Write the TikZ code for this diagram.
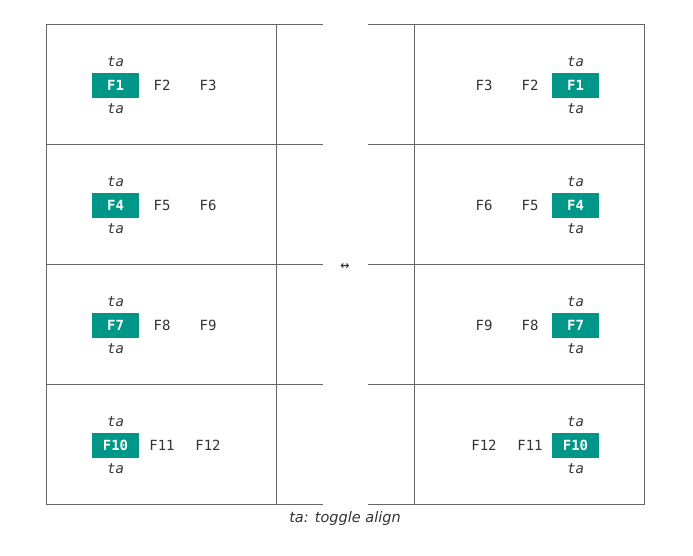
\documentclass[tikz,border=0pt]{standalone}
\usepackage{fontspec}
\setmainfont{DejaVu Sans}
\setmonofont{DejaVu Sans Mono}
\definecolor{teal9}{HTML}{009688}
\definecolor{txt}{HTML}{333333}
\definecolor{ln}{HTML}{666666}
\begin{document}
\begin{tikzpicture}[x=1pt,y=-1pt,
  grid/.style={draw=ln,line width=0.8pt},
  lbl/.style={font=\ttfamily\fontsize{14}{14}\selectfont,text=txt,inner sep=0pt},
  talbl/.style={font=\ttfamily\itshape\fontsize{14}{14}\selectfont,text=txt,inner sep=0pt},
  hl/.style={fill=teal9,text=white,font=\ttfamily\bfseries\fontsize{14}{14}\selectfont,minimum width=47pt,minimum height=25pt,inner sep=0pt}]
\useasboundingbox (0,0) rectangle (693,555);
% left grid
\draw[grid] (323,24) -- (46,24) -- (46,504) -- (323,504);
\foreach \y in {144,264,384} \draw[grid] (46,\y) -- (323,\y);
\draw[grid] (276,24) -- (276,504);
% right grid
\draw[grid] (368,24) -- (644,24) -- (644,504) -- (368,504);
\foreach \y in {144,264,384} \draw[grid] (368,\y) -- (644,\y);
\draw[grid] (414,24) -- (414,504);
\node[font=\bfseries\fontsize{11}{11}\selectfont,text=txt,inner sep=0pt] (arr) at (345,267) {↔};
% rows
\foreach \i/\a/\b/\c/\yy in {1/F1/F2/F3/85,2/F4/F5/F6/205,3/F7/F8/F9/325,4/F10/F11/F12/445}{
  \node[hl] (L\i) at (115.5,\yy) {\a};
  \node[talbl] (Lt\i) at (115.5,\yy-23.5) {ta};
  \node[talbl] (Lb\i) at (115.5,\yy+23.5) {ta};
  \node[lbl] (Lm\i) at (162,\yy) {\b};
  \node[lbl] (Lr\i) at (208,\yy) {\c};
  \node[hl] (R\i) at (575.5,\yy) {\a};
  \node[talbl] (Rt\i) at (575.5,\yy-23.5) {ta};
  \node[talbl] (Rb\i) at (575.5,\yy+23.5) {ta};
  \node[lbl] (Rm\i) at (530,\yy) {\b};
  \node[lbl] (Rl\i) at (484,\yy) {\c};
}
\node[font=\itshape\fontsize{14.5}{14.5}\selectfont,text=txt,inner sep=0pt] (cap) at (345,518) {ta: toggle align};
\end{tikzpicture}
\end{document}
